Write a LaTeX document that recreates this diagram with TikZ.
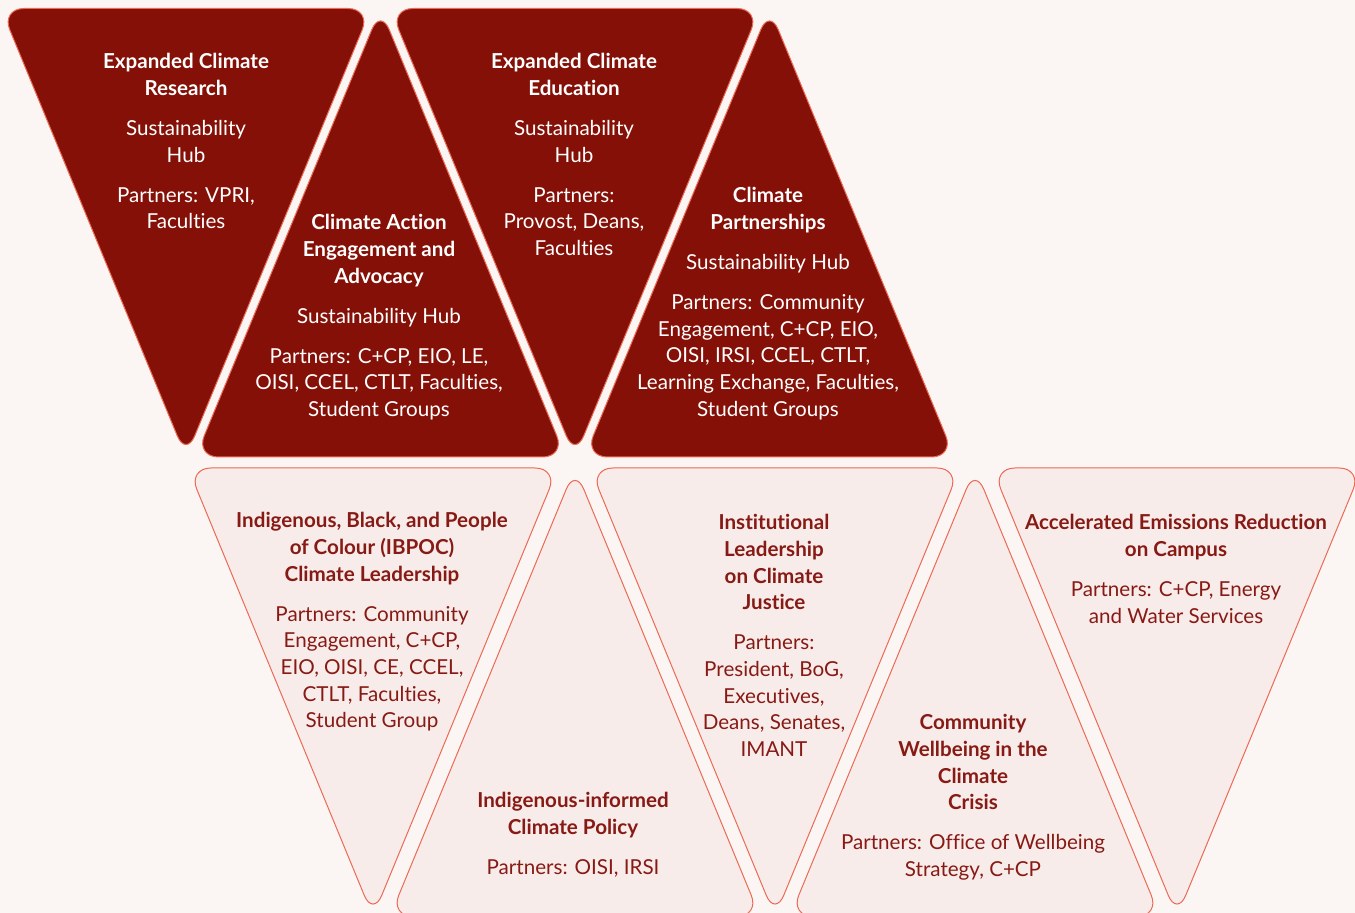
\documentclass[tikz,border=0pt]{standalone}
\usepackage{fontspec}
\setmainfont{Lato}[Ligatures=NoCommon]
\definecolor{bgcol}{HTML}{FBF6F4}
\definecolor{darkred}{HTML}{841007}
\definecolor{edgered}{HTML}{EC6A55}
\definecolor{lightfill}{HTML}{F8ECEA}
\definecolor{txtred}{HTML}{871A14}
\begin{document}
\begin{tikzpicture}[x=0.5pt,y=-0.5pt,
	darktri/.style  = {fill=darkred, draw=edgered, line width=0.5pt, rounded corners=11.5pt},
	lighttri/.style = {fill=lightfill, draw=edgered, line width=0.5pt, rounded corners=11.5pt},
	basetxt/.style  = {align=center, inner sep=0pt, anchor=north, font=\fontsize{10.3}{13.35}\selectfont},
	darktxt/.style  = {basetxt, text=white},
	lighttxt/.style = {basetxt, text=txtred}]
	
	\useasboundingbox (0,0) rectangle (1355,913);
	\fill[bgcol] (0,0) rectangle (1355,913);
	\clip (0,0) rectangle (1355,913);
	
	% upper row
	\foreach \cx in {186,575}
	\draw[darktri] (\cx,8.5) -- ({\cx+185},8.5) -- (\cx,457) -- ({\cx-185},8.5) -- cycle;
	\foreach \cx in {380.5,769.5}
	\draw[darktri] (\cx,457) -- ({\cx+185},457) -- (\cx,8.5) -- ({\cx-185},457) -- cycle;
	
	% lower row
	\foreach \cx in {373,775,1177}
	\draw[lighttri] (\cx,468) -- ({\cx+185},468) -- (\cx,916.5) -- ({\cx-185},468) -- cycle;
	\foreach \cx in {575,975}
	\draw[lighttri] (\cx,916.5) -- ({\cx+185},916.5) -- (\cx,468) -- ({\cx-185},916.5) -- cycle;
	
	\begin{scope}[every node/.style={darktxt}]
	\node (research) at (186,53) {\textbf{Expanded Climate}\\\textbf{Research}\\[6.65pt]Sustainability\\Hub\\[6.65pt]Partners: VPRI,\\Faculties};
	\node (advocacy) at (379,214) {\textbf{Climate Action}\\\textbf{Engagement and}\\\textbf{Advocacy}\\[6.65pt]Sustainability Hub\\[6.65pt]Partners: C+CP, EIO, LE,\\OISI, CCEL, CTLT, Faculties,\\Student Groups};
	\node (education) at (574,53) {\textbf{Expanded Climate}\\\textbf{Education}\\[6.65pt]Sustainability\\Hub\\[6.65pt]Partners:\\Provost, Deans,\\Faculties};
	\node (partnerships) at (768,187) {\textbf{Climate}\\\textbf{Partnerships}\\[6.65pt]Sustainability Hub\\[6.65pt]Partners: Community\\Engagement, C+CP, EIO,\\OISI, IRSI, CCEL, CTLT,\\Learning Exchange, Faculties,\\Student Groups};
	\end{scope}
	
	\begin{scope}[every node/.style={lighttxt}]
	\node (ibpoc) at (372,512) {\textbf{Indigenous, Black, and People}\\\textbf{of Colour (IBPOC)}\\\textbf{Climate Leadership}\\[6.65pt]Partners: Community\\Engagement, C+CP,\\EIO, OISI, CE, CCEL,\\CTLT, Faculties,\\Student Group};
	\node (policy) at (573,792) {\textbf{Indigenous-informed}\\\textbf{Climate Policy}\\[6.65pt]Partners: OISI, IRSI};
	\node (justice) at (774,514) {\textbf{Institutional}\\\textbf{Leadership}\\\textbf{on Climate}\\\textbf{Justice}\\[6.65pt]Partners:\\President, BoG,\\Executives,\\Deans, Senates,\\IMANT};
	\node (wellbeing) at (973,714) {\textbf{Community}\\\textbf{Wellbeing in the}\\\textbf{Climate}\\\textbf{Crisis}\\[6.65pt]Partners: Office of Wellbeing\\Strategy, C+CP};
	\node (emissions) at (1176,514) {\textbf{Accelerated Emissions Reduction}\\\textbf{on Campus}\\[6.65pt]Partners: C+CP, Energy\\and Water Services};
	\end{scope}
	
\end{tikzpicture}
\end{document}
